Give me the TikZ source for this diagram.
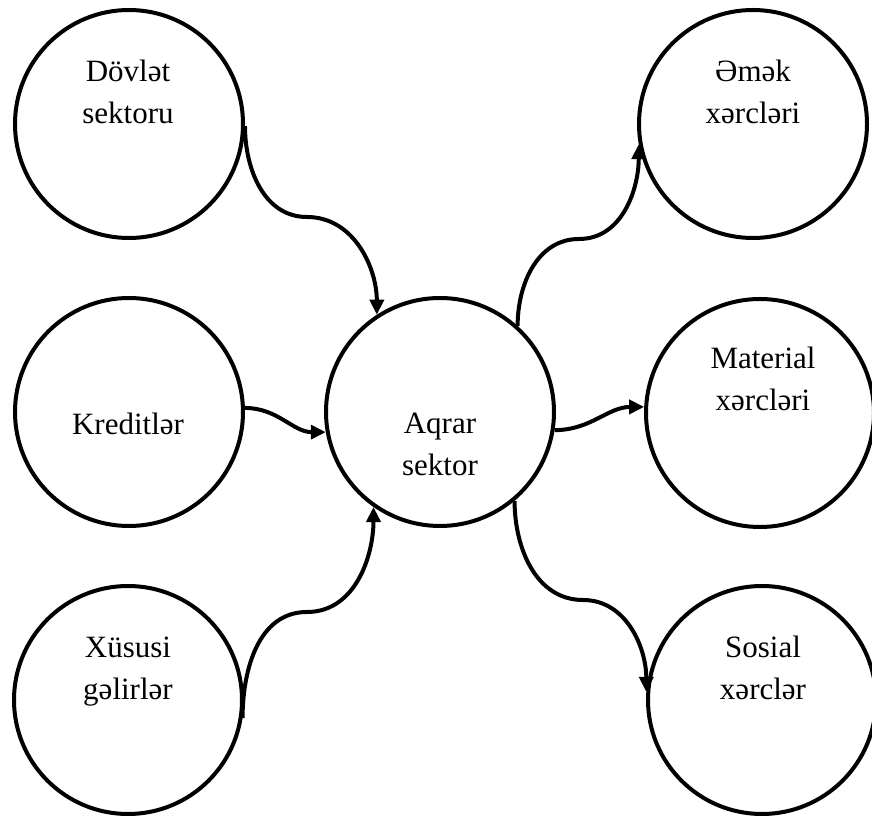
\documentclass[tikz,border=0pt]{standalone}
\usepackage{fontspec}
\setmainfont{Liberation Serif}
\newfontfamily\tnr{Liberation Serif}
\usetikzlibrary{arrows.meta}
\begin{document}
\begin{tikzpicture}[x=1pt,y=1pt,
  ring/.style={circle,draw,line width=4pt,minimum size=228pt,inner sep=0pt},
  lbl/.style={align=center,anchor=base,inner sep=0pt,font=\tnr\fontsize{31}{42}\selectfont},
  conn/.style={line width=4pt,-{Triangle[length=15pt,width=14pt]}}]
\useasboundingbox (0,0) rectangle (872,816);
% circles
\node[ring] (dov) at (129,692) {};
\node[ring] (kr)  at (129,404) {};
\node[ring] (xu)  at (128,116) {};
\node[ring] (aq)  at (440,404) {};
\node[ring] (em)  at (753,692) {};
\node[ring] (mat) at (760,403) {};
\node[ring] (sos) at (762,116) {};
% labels (anchor = baseline of last line)
\node[lbl] (dovt) at (128,692) {Dövlət\\sektoru};
\node[lbl] (krt)  at (128,381) {Kreditlər};
\node[lbl] (xut)  at (128,116) {Xüsusi\\gəlirlər};
\node[lbl] (aqt)  at (440,340) {Aqrar\\sektor};
\node[lbl] (emt)  at (753,692) {Əmək\\xərcləri};
\node[lbl] (matt) at (763,405) {Material\\xərcləri};
\node[lbl] (sost) at (763,116) {Sosial\\xərclər};
% bend points
\coordinate (m1) at (307,599);
\coordinate (m3) at (307,204);
\coordinate (m4) at (579,577);
\coordinate (m6) at (583,216);
% connectors
\draw[conn] (dov.-1.5) to[out=-90,in=180] (m1) to[out=0,in=90] (aq.123.8);
\draw[conn] (kr.2.4) to[out=0,in=180] (aq.190.3);
\draw[conn] (xu.-9.7) to[out=90,in=180] (m3) to[out=0,in=-90] (aq.235.6);
\draw[conn] (aq.48.1) to[out=90,in=180] (m4) to[out=0,in=-90] (em.190.4);
\draw[conn] (aq.-9.3) to[out=0,in=180] (mat.177.5);
\draw[conn] (aq.-50) to[out=-90,in=180] (m6) to[out=0,in=90] (sos.176.5);
\end{tikzpicture}
\end{document}
